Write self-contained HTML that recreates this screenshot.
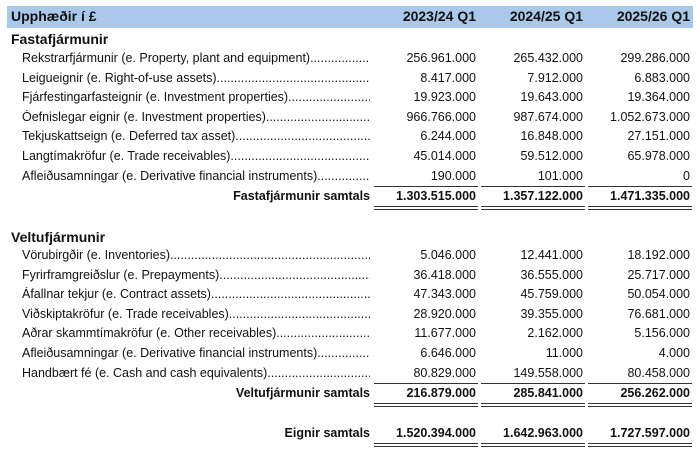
<!DOCTYPE html>
<html><head><meta charset="utf-8"><style>
body{margin:0;width:700px;height:451px;background:#fff;font-family:"Liberation Sans",sans-serif;font-size:12.5px;color:#111;position:relative;overflow:hidden}
.hdr{position:absolute;left:7px;top:6px;width:686px;height:22px;background:#a9c8ea}
.t{position:absolute;white-space:nowrap}
.b{font-weight:bold}
.lab{position:absolute;left:22px;width:348px;overflow:hidden;white-space:nowrap}
.n{position:absolute;text-align:right;white-space:nowrap}
.c1{left:374px;width:102px}.c2{left:481px;width:102px}.c3{left:588px;width:102px}
.ln{position:absolute;height:0;border-top:1px solid #333}
.dl{position:absolute;height:2px;border-top:1px solid #333;border-bottom:1px solid #333}
</style></head><body>
<div class="hdr"></div>
<div class="t b" style="left:11px;top:8px;font-size:14px">Upphæðir í £</div>
<div class="n b c1" style="top:8px;font-size:14px">2023/24 Q1</div>
<div class="n b c2" style="top:8px;font-size:14px">2024/25 Q1</div>
<div class="n b c3" style="top:8px;font-size:14px">2025/26 Q1</div>

<div class="t b" style="left:11px;top:31px;font-size:14px">Fastafjármunir</div>
<script>
function rows(list,top){
 let h='';
 list.forEach((r,i)=>{
  const y=top+i*19.6;
  h+=`<div class="lab" style="top:${y}px">${r[0]}..................................................................................</div>`;
  for(let k=1;k<=3;k++) h+=`<div class="n c${k}" style="top:${y}px">${r[k]}</div>`;
 });
 document.write(h);
}
rows([
["Rekstrarfjármunir (e. Property, plant and equipment)","256.961.000","265.432.000","299.286.000"],
["Leigueignir (e. Right-of-use assets)","8.417.000","7.912.000","6.883.000"],
["Fjárfestingarfasteignir (e. Investment properties)","19.923.000","19.643.000","19.364.000"],
["Óefnislegar eignir (e. Investment properties)","966.766.000","987.674.000","1.052.673.000"],
["Tekjuskattseign (e. Deferred tax asset)","6.244.000","16.848.000","27.151.000"],
["Langtímakröfur (e. Trade receivables)","45.014.000","59.512.000","65.978.000"],
["Afleiðusamningar (e. Derivative financial instruments)","190.000","101.000","0"]
],51);
rows([
["Vörubirgðir (e. Inventories)","5.046.000","12.441.000","18.192.000"],
["Fyrirframgreiðslur (e. Prepayments)","36.418.000","36.555.000","25.717.000"],
["Áfallnar tekjur (e. Contract assets)","47.343.000","45.759.000","50.054.000"],
["Viðskiptakröfur (e. Trade receivables)","28.920.000","39.355.000","76.681.000"],
["Aðrar skammtímakröfur (e. Other receivables)","11.677.000","2.162.000","5.156.000"],
["Afleiðusamningar (e. Derivative financial instruments)","6.646.000","11.000","4.000"],
["Handbært fé (e. Cash and cash equivalents)","80.829.000","149.558.000","80.458.000"]
],248);
function tot(label,vals,y,single){
 let h=`<div class="n b" style="left:100px;width:270px;top:${y}px">${label}</div>`;
 const xs=[374,481,588];
 vals.forEach((v,i)=>{
  h+=`<div class="n b c${i+1}" style="top:${y}px">${v}</div>`;
  if(single) h+=`<div class="ln" style="left:${xs[i]}px;width:104px;top:${y-3}px"></div>`;
  h+=`<div class="dl" style="left:${xs[i]}px;width:104px;top:${y+17}px"></div>`;
 });
 document.write(h);
}
tot("Fastafjármunir samtals",["1.303.515.000","1.357.122.000","1.471.335.000"],189,true);
tot("Veltufjármunir samtals",["216.879.000","285.841.000","256.262.000"],386,true);
tot("Eignir samtals",["1.520.394.000","1.642.963.000","1.727.597.000"],426,false);
</script>
<div class="t b" style="left:11px;top:229px;font-size:14px">Veltufjármunir</div>
</body></html>
